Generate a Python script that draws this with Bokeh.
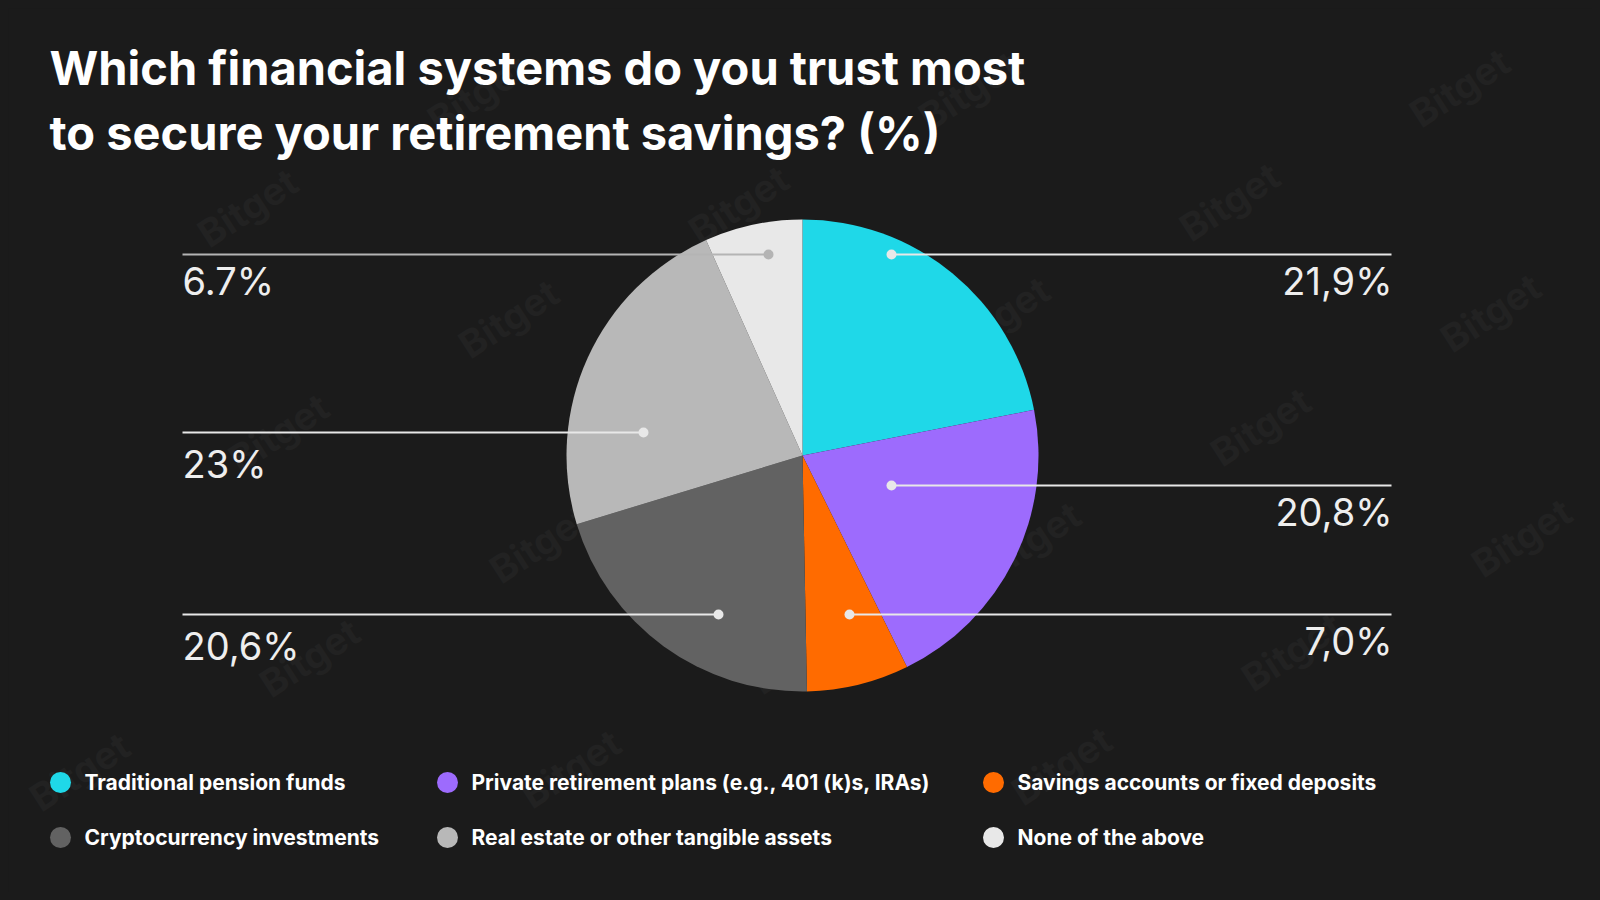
import math
from bokeh.plotting import figure
from bokeh.models import Range1d, ColumnDataSource
from bokeh.core.properties import value
from bokeh.embed import file_html
from bokeh.resources import INLINE

# ---------------- data ----------------
categories = [
    "Traditional pension funds",
    "Private retirement plans (e.g., 401 (k)s, IRAs)",
    "Savings accounts or fixed deposits",
    "Cryptocurrency investments",
    "Real estate or other tangible assets",
    "None of the above",
]
values = [21.9, 20.8, 7.0, 20.6, 23.0, 6.7]
value_labels = ["21,9%", "20,8%", "7,0%", "20,6%", "23%", "6.7%"]
colors = ["#1fd8e8", "#9d6bfd", "#ff6b00", "#626262", "#b8b8b8", "#e8e8e8"]

# annotation layout (page pixels)
label_side = ["right", "right", "right", "left", "left", "left"]
line_y = [254, 485, 614, 614, 432, 254]
label_drop = [41, 41, 41, 46, 46, 41]
dot_x = [891, 891, 849, 718, 643, 768]
line_colors = ["#e8e8e8", "#e8e8e8", "#e8e8e8", "#e8e8e8", "#e8e8e8", "#b4b4b4"]

title_lines = ["Which financial systems do you trust most",
               "to secure your retirement savings? (%)"]

# ---------------- layout ----------------
W, H = 1584, 884
BG = "#1b1b1b"

def fx(X):
    return X - 8

def fy(Y):
    return H - (Y - 8)

def base(Y, size):
    # compensate the renderer's baseline offset
    return fy(Y - 0.39 * size)

p = figure(width=W, height=H, x_range=Range1d(0, W), y_range=Range1d(0, H),
           output_backend="svg", toolbar_location=None, min_border=0,
           background_fill_color=BG, border_fill_color=BG, outline_line_color=None)
p.axis.visible = False
p.grid.visible = False

# watermark lattice
wx, wy = [], []
ox, oy = 1459, 87
ax_, ay_ = -230, 114
bx_, by_ = 31, 225
for i in range(-3, 9):
    for j in range(-4, 6):
        X = ox + i * ax_ + j * bx_
        Y = oy + i * ay_ + j * by_
        if 75 < X < 1525 and 65 < Y < 835:
            wx.append(fx(X))
            wy.append(fy(Y))
p.text(x=wx, y=wy, text=["Bitget"] * len(wx), angle=math.radians(33),
       text_font=value("Inter"), text_font_style="bold", text_font_size="38px",
       text_color="#222222", text_align="center", text_baseline="middle")

# pie
cx, cy, R = fx(802), fy(455), 236
total = sum(values)
cum = 0.0
starts, ends = [], []
for v in values:
    a0 = math.pi / 2 - 2 * math.pi * cum / total
    cum += v
    a1 = math.pi / 2 - 2 * math.pi * cum / total
    starts.append(a1)
    ends.append(a0)
src = ColumnDataSource(dict(start=starts, end=ends, color=colors, cat=categories, val=values))
p.wedge(x=cx, y=cy, radius=R, start_angle="start", end_angle="end",
        fill_color="color", line_color=None, source=src)

# leader lines, dots and labels
LS = 38
for k in range(len(values)):
    yy = fy(line_y[k])
    if label_side[k] == "right":
        x0, x1 = fx(dot_x[k]), fx(1391)
        tx, align = fx(1392), "right"
    else:
        x0, x1 = fx(182), fx(dot_x[k])
        tx, align = fx(182), "left"
    p.line([x0, x1], [yy, yy], line_color=line_colors[k], line_width=2)
    p.scatter([fx(dot_x[k])], [yy], size=10, marker="circle",
              fill_color=line_colors[k], line_color=None)
    p.text(x=[tx], y=[base(line_y[k] + label_drop[k], LS)], text=[value_labels[k]],
           text_font=value("Inter"), text_font_size=f"{LS}px",
           text_color="#eeeeee", text_align=align, text_baseline="alphabetic")

# title
TS = 47
for i, t in enumerate(title_lines):
    p.text(x=[fx(49)], y=[base(85 + 65 * i, TS)], text=[t],
           text_font=value("Inter"), text_font_style="bold", text_font_size=f"{TS}px",
           text_color="#ffffff", text_align="left", text_baseline="alphabetic")

# legend
GS = 21
leg_cx = [60, 447, 993, 60, 447, 993]
leg_cy = [782, 782, 782, 837, 837, 837]
for k in range(len(categories)):
    p.scatter([fx(leg_cx[k])], [fy(leg_cy[k])], size=21, marker="circle",
              fill_color=colors[k], line_color=None)
    p.text(x=[fx(leg_cx[k] + 24)], y=[base(leg_cy[k] + 8, GS)], text=[categories[k]],
           text_font=value("Inter"), text_font_style="bold", text_font_size=f"{GS}px",
           text_color="#ffffff", text_align="left", text_baseline="alphabetic")

html = file_html(p, INLINE, title="Retirement savings trust")
html = html.replace("</head>", "<style>html{background:#1b1b1b;}body{background:#1b1b1b;margin:8px;padding:0;}</style></head>", 1)
open("out.html", "w").write(html)
